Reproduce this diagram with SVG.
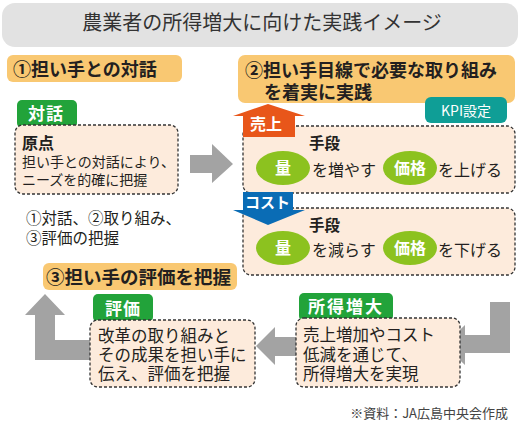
<svg xmlns="http://www.w3.org/2000/svg" width="520" height="435" viewBox="0 0 520 435">
<style>
text{font-family:"Noto Sans CJK JP","Noto Sans",sans-serif;fill:#231f20}
.b{font-weight:bold}
.w{fill:#fff;font-weight:bold}
.head{fill:#f9c872}
.box{fill:#fdebdc;stroke:#333;stroke-width:1.3;stroke-dasharray:3 2}
.tab{fill:#22a33a}
.ell{fill:#8cc21f}
.gray{fill:#a3a3a3}
</style>
<rect width="520" height="435" fill="#fff"/>
<g id="title">
<rect x="2" y="3" width="516" height="44" rx="13" fill="#e2e2e2"/>
<text x="262" y="30" font-size="20" text-anchor="middle" fill="#333" style="fill:#333">農業者の所得増大に向けた実践イメージ</text>
</g>
<g id="connectors">
<polygon class="gray" points="190,155 212,155 212,144 233,164 212,183 212,173 190,173"/>
<polygon class="gray" points="490,302 510,302 510,353 465,353 465,365 444,345 465,325 465,335 490,335"/>
<polygon class="gray" points="296,337 275,337 275,327 256,346 275,365 275,356 296,356"/>
<polygon class="gray" points="90,340 55,340 55,315 65,315 45,294 25,315 35,315 35,360 90,360"/>
</g>
<g id="heading1">
<rect class="head" x="7" y="55" width="175" height="27" rx="6"/>
<text class="b" x="13" y="76" font-size="18">①担い手との対話</text>
</g>
<g id="heading2">
<rect class="head" x="238" y="55" width="277" height="48" rx="7"/>
<text class="b" x="245" y="77" font-size="18">②担い手目線で必要な取り組み</text>
<text class="b" x="264" y="99" font-size="18">を着実に実践</text>
</g>
<g id="kpi">
<rect x="425" y="97" width="82" height="26" rx="6" fill="#0f9e96"/>
<text x="466" y="116" font-size="14" text-anchor="middle" style="fill:#fff">KPI設定</text>
</g>
<g id="taiwa">
<rect class="tab" x="17" y="100" width="60" height="28" rx="5"/>
<rect class="box" x="15" y="125" width="163" height="69" rx="8"/>
<text class="w" x="28" y="120" font-size="17" letter-spacing="1">対話</text>
<text class="b" x="22" y="149" font-size="16">原点</text>
<text x="22" y="167" font-size="14">担い手との対話により、</text>
<text x="22" y="185" font-size="14">ニーズを的確に把握</text>
</g>
<g id="note">
<text x="26" y="224" font-size="15.5">①対話、②取り組み、</text>
<text x="26" y="244" font-size="15.5">③評価の把握</text>
</g>
<g id="uriage">
<rect class="box" x="243" y="126" width="272" height="67" rx="8"/>
<polygon points="268,104 305,116 295,116 295,137 243,137 243,116 233,116" fill="#e8561a"/>
<text class="w" x="250" y="130" font-size="16">売上</text>
<text class="b" x="309" y="149" font-size="15.5">手段</text>
<ellipse class="ell" cx="283" cy="168" rx="27" ry="17"/>
<text class="w" x="283" y="174" font-size="16" text-anchor="middle">量</text>
<text x="312" y="176" font-size="16">を増やす</text>
<ellipse class="ell" cx="410" cy="168" rx="27" ry="17"/>
<text class="w" x="410" y="174" font-size="16" text-anchor="middle">価格</text>
<text x="438" y="176" font-size="16">を上げる</text>
</g>
<g id="cost">
<rect class="box" x="243" y="208" width="272" height="67" rx="8"/>
<polygon points="243,192 293,192 293,210 305,210 268,225 233,210 243,210" fill="#0a6cb5"/>
<text class="w" x="245" y="208" font-size="15">コスト</text>
<text class="b" x="309" y="231" font-size="15.5">手段</text>
<ellipse class="ell" cx="283" cy="248" rx="27" ry="17"/>
<text class="w" x="283" y="254" font-size="16" text-anchor="middle">量</text>
<text x="312" y="256" font-size="16">を減らす</text>
<ellipse class="ell" cx="410" cy="248" rx="27" ry="17"/>
<text class="w" x="410" y="254" font-size="16" text-anchor="middle">価格</text>
<text x="438" y="256" font-size="16">を下げる</text>
</g>
<g id="heading3">
<rect class="head" x="43" y="263" width="194" height="27" rx="6"/>
<text class="b" x="46" y="284" font-size="18.5">③担い手の評価を把握</text>
</g>
<g id="hyoka">
<rect class="tab" x="93" y="294" width="60" height="28" rx="5"/>
<rect class="box" x="90" y="320" width="165" height="67" rx="8"/>
<text class="w" x="105" y="315" font-size="17" letter-spacing="1">評価</text>
<text x="98" y="342" font-size="16.5">改革の取り組みと</text>
<text x="98" y="361" font-size="16.5">その成果を担い手に</text>
<text x="98" y="380" font-size="16.5">伝え、評価を把握</text>
</g>
<g id="shotoku">
<rect class="tab" x="299" y="293" width="94" height="28" rx="5"/>
<rect class="box" x="296" y="318" width="164" height="69" rx="8"/>
<text class="w" x="308" y="313" font-size="17" letter-spacing="2">所得増大</text>
<text x="303" y="341" font-size="16.5">売上増加やコスト</text>
<text x="303" y="361" font-size="16.5">低減を通じて、</text>
<text x="303" y="380" font-size="16.5">所得増大を実現</text>
</g>
<g id="footer">
<text x="508" y="418" font-size="13" text-anchor="end" style="fill:#444">※資料：JA広島中央会作成</text>
</g>
</svg>
